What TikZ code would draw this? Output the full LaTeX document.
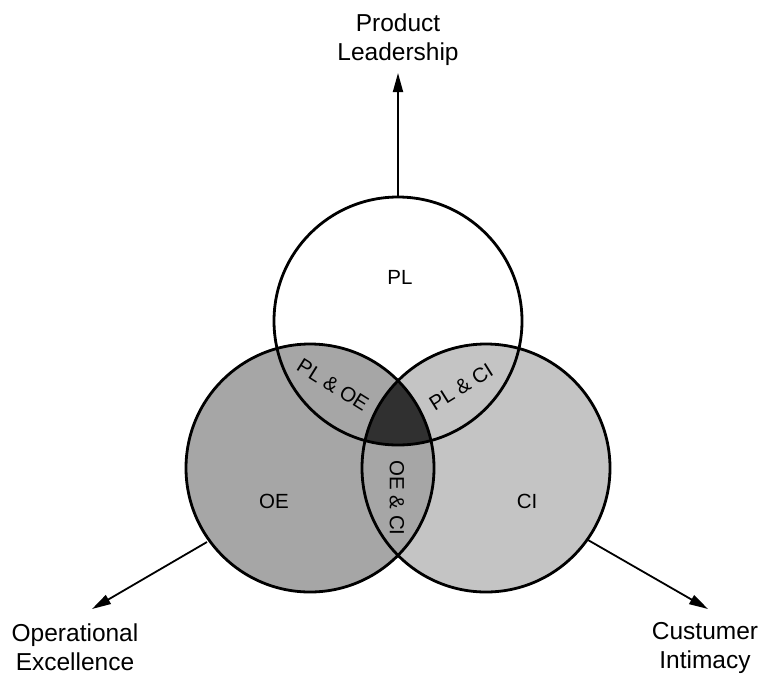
\documentclass[tikz,border=0pt]{standalone}
\usepackage{fontspec}
\setmainfont{Liberation Sans}
\usetikzlibrary{arrows.meta}

\definecolor{oegray}{HTML}{A6A6A6}
\definecolor{cigray}{HTML}{C4C4C4}
\definecolor{coregray}{HTML}{303030}

\tikzset{
  ringline/.style={draw=black, line width=2.8pt},
  axislabel/.style={align=center, font=\fontsize{24.5}{29}\selectfont, inner sep=0pt},
  setlabel/.style={font=\fontsize{20.5}{24}\selectfont, inner sep=0pt},
  axisarrow/.style={line width=1.8pt, -{Triangle[length=19pt,width=10pt]}},
}

\begin{document}
\begin{tikzpicture}[x=1pt, y=-1pt]
  \useasboundingbox (0,0) rectangle (762,675);

  % circle centres and radius
  \def\rr{124pt}
  \coordinate (cpl) at (398,321);
  \coordinate (coe) at (310,468);
  \coordinate (cci) at (486,468);

  % region fills
  \fill[white]   (cpl) circle[radius=\rr];
  \fill[cigray]  (cci) circle[radius=\rr];
  \fill[oegray]  (coe) circle[radius=\rr];
  \begin{scope}
    \clip (cpl) circle[radius=\rr];
    \clip (coe) circle[radius=\rr];
    \fill[coregray] (cci) circle[radius=\rr];
  \end{scope}

  % outlines
  \draw[ringline] (cpl) circle[radius=\rr];
  \draw[ringline] (coe) circle[radius=\rr];
  \draw[ringline] (cci) circle[radius=\rr];

  % set labels
  \node[setlabel] (plt) at (400,277) {PL};
  \node[setlabel] (oet) at (274,501) {OE};
  \node[setlabel] (cit) at (527,501) {CI};
  \node[setlabel, rotate=-32] (ploet) at (333,385) {PL \& OE};
  \node[setlabel, rotate=32] (plcit) at (461,387) {PL \& CI};
  \node[setlabel, rotate=-90] (oecit) at (397,498) {OE \& CI};

  % axis starts on the circles and axis ends
  \coordinate (plstart) at (398,197);
  \coordinate (oestart) at (207,542);
  \coordinate (cistart) at (588,540);
  \coordinate (plend) at (398,73);
  \coordinate (oeend) at (92,609);
  \coordinate (ciend) at (708,609);

  \draw[axisarrow] (plstart) -- (plend);
  \draw[axisarrow] (oestart) -- (oeend);
  \draw[axisarrow] (cistart) -- (ciend);

  % axis labels
  \node[axislabel, anchor=south] (pllab) at (398,66) {Product\\Leadership};
  \node[axislabel] (oelab) at (75,647) {Operational\\Excellence};
  \node[axislabel] (cilab) at (705,648) {Custumer\\Intimacy};
\end{tikzpicture}
\end{document}
